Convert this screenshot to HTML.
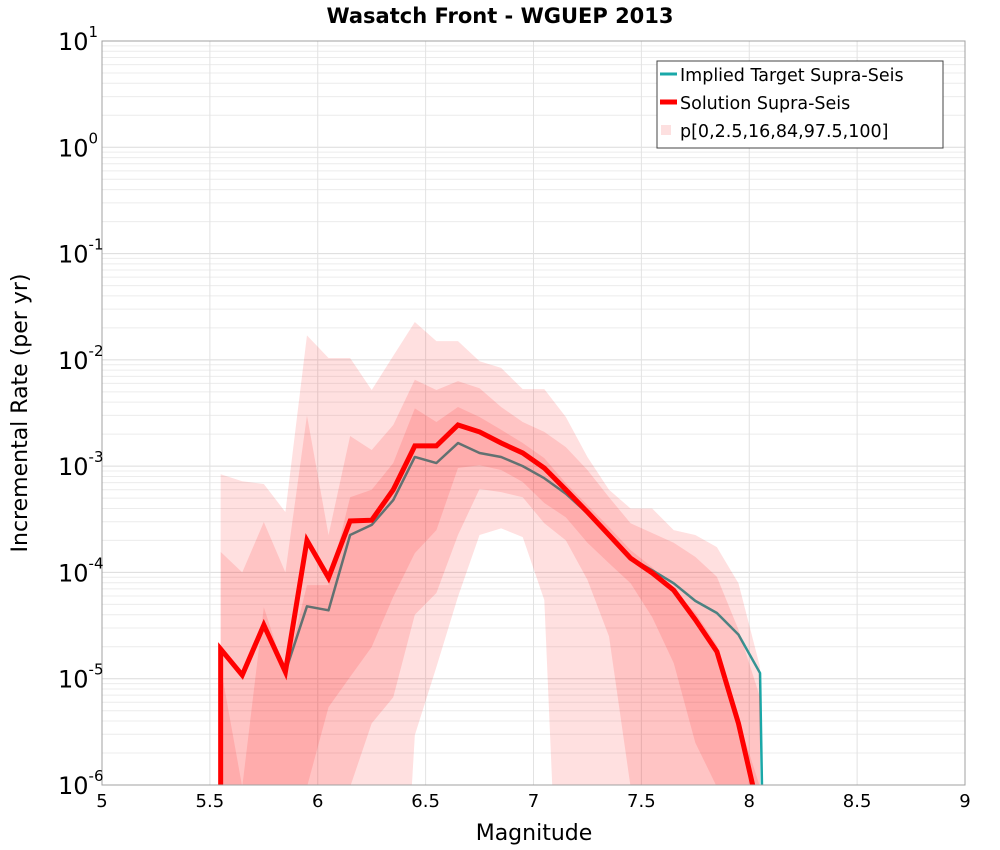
<!DOCTYPE html>
<html><head><meta charset="utf-8"><style>
html,body{margin:0;padding:0;background:#fff;}
svg{display:block;font-family:"DejaVu Sans","Liberation Sans",sans-serif;}
</style></head><body>
<svg id="chart" width="1000" height="850" viewBox="0 0 1000 850">
<defs><clipPath id="plotclip"><rect x="102" y="41" width="863" height="744"/></clipPath></defs>
<text x="500" y="23" text-anchor="middle" font-size="21" font-weight="bold">Wasatch Front - WGUEP 2013</text>
<g id="grid"></g>
<g id="series" clip-path="url(#plotclip)"></g>
<rect x="102" y="41" width="863" height="744" fill="none" stroke="#a0a0a0" stroke-width="1"/>
<g id="xticks"></g>
<g id="yticks"></g>
<text x="534" y="840" text-anchor="middle" font-size="22">Magnitude</text>
<text transform="translate(27,413) rotate(-90)" text-anchor="middle" font-size="22">Incremental Rate (per yr)</text>
<g>
<rect x="657" y="61" width="286" height="87" fill="#fff" stroke="#444" stroke-width="1"/>
<line x1="660" y1="74" x2="677" y2="74" stroke="#1aa8a8" stroke-width="3"/>
<text x="680" y="81" font-size="17.5">Implied Target Supra-Seis</text>
<line x1="660" y1="102" x2="677" y2="102" stroke="#ff0000" stroke-width="5"/>
<text x="680" y="109" font-size="17.5">Solution Supra-Seis</text>
<rect x="661" y="125" width="10" height="10" fill="#fde0e0"/>
<text x="680" y="137" font-size="17.5">p[0,2.5,16,84,97.5,100]</text>
</g>
</svg>
<script>
const mags = [5.55,5.65,5.75,5.85,5.95,6.05,6.15,6.25,6.35,6.45,6.55,6.65,6.75,6.85,6.95,7.05,7.15,7.25,7.35,7.45,7.55,7.65,7.75,7.85,7.95,8.05];
const solution = [1.9e-5,1.08e-5,3.2e-5,1.16e-5,2.0e-4,8.9e-5,3.05e-4,3.1e-4,6.0e-4,1.55e-3,1.55e-3,2.44e-3,2.1e-3,1.65e-3,1.33e-3,9.6e-4,6.0e-4,3.7e-4,2.25e-4,1.36e-4,9.9e-5,6.8e-5,3.6e-5,1.8e-5,3.8e-6,5e-7];
const target = [1.9e-5,1.08e-5,3.2e-5,1.16e-5,4.8e-5,4.4e-5,2.25e-4,2.8e-4,4.8e-4,1.22e-3,1.07e-3,1.65e-3,1.33e-3,1.22e-3,1.0e-3,7.7e-4,5.5e-4,3.6e-4,2.25e-4,1.36e-4,1.05e-4,7.9e-5,5.4e-5,4.15e-5,2.6e-5,1.13e-5];
const p100 = [8.4e-4,7.2e-4,6.8e-4,3.7e-4,1.7e-2,1.04e-2,1.04e-2,5.2e-3,1.09e-2,2.27e-2,1.5e-2,1.5e-2,9.7e-3,8.4e-3,5.3e-3,5.3e-3,2.9e-3,1.22e-3,6.0e-4,4.0e-4,4.0e-4,2.5e-4,2.25e-4,1.73e-4,7.9e-5,1.29e-5];
const p97_5 = [1.56e-4,1.0e-4,2.98e-4,1.0e-4,3.0e-3,2.25e-4,1.92e-3,1.42e-3,2.44e-3,6.5e-3,5.2e-3,6.3e-3,5.4e-3,3.6e-3,2.6e-3,2.1e-3,1.51e-3,9.2e-4,5.1e-4,2.9e-4,2.35e-4,1.9e-4,1.4e-4,9.1e-5,2.9e-5,6.7e-6];
const p84 = [1.29e-5,0,4.7e-5,1.13e-5,7.6e-5,7.6e-5,5.1e-4,6.0e-4,1.07e-3,3.5e-3,2.6e-3,3.6e-3,2.9e-3,2.2e-3,1.65e-3,1.19e-3,6.9e-4,4.3e-4,2.67e-4,1.62e-4,1.12e-4,6.8e-5,4.2e-5,2.07e-5,4.1e-6,0];
const p16 = [0,0,0,0,0,5.4e-6,1.04e-5,1.99e-5,5.9e-5,1.52e-4,2.5e-4,9.6e-4,1.02e-3,9.2e-4,7.1e-4,4.5e-4,3.3e-4,1.9e-4,1.22e-4,7.9e-5,3.8e-5,1.4e-5,2.5e-6,0,0,0];
const p2_5 = [0,0,0,0,0,0,0,3.8e-6,6.7e-6,4.0e-5,6.4e-5,2.25e-4,6.1e-4,5.7e-4,5.1e-4,2.9e-4,2.0e-4,8.5e-5,2.5e-5,0,0,0,0,0,0,0];
const p0 = [0,0,0,0,0,0,0,0,1e-9,2.95e-6,1.29e-5,5.9e-5,2.25e-4,2.6e-4,2.15e-4,5.5e-5,1e-9,0,0,0,0,0,0,0,0,0];
const xTicks = [5,5.5,6,6.5,7,7.5,8,8.5,9];
const xTickLabels = ["5","5.5","6","6.5","7","7.5","8","8.5","9"];
const yExps = [-6,-5,-4,-3,-2,-1,0,1];

const X0=102,X1=965,Y0=785,Y1=41;
const xS = m => X0 + (m-5)/(9-5)*(X1-X0);
const yS = v => { if(!(v>0)) return Y0+2; return Y0 - (Math.log10(v)+6)/7*(Y0-Y1); };
const NS="http://www.w3.org/2000/svg";
function mk(tag, parent, attrs){const e=document.createElementNS(NS,tag);for(const k in attrs)e.setAttribute(k,attrs[k]);parent.appendChild(e);return e;}

const grid=document.getElementById('grid');
for(let e=-6;e<1;e++){for(let k=2;k<=9;k++){const y=yS(k*Math.pow(10,e));
 const l=mk('line',grid,{x1:X0,x2:X1,y1:y,y2:y,stroke:'#ececec','stroke-width':1});
 
 }}
yExps.forEach(e=>{const y=yS(Math.pow(10,e));
 const l=mk('line',grid,{x1:X0,x2:X1,y1:y,y2:y,stroke:'#dcdcdc','stroke-width':1});
 
 });
xTicks.forEach(m=>{const x=xS(m);
 const l=mk('line',grid,{x1:x,x2:x,y1:Y1,y2:Y0,stroke:'#e2e2e2','stroke-width':1});
 
 });

const xt=document.getElementById('xticks');
xTicks.forEach((m,i)=>{const t=mk('text',xt,{x:xS(m),y:807,'text-anchor':'middle','font-size':18});t.textContent=xTickLabels[i];
 
 });
const yt=document.getElementById('yticks');
yExps.forEach(e=>{const y=yS(Math.pow(10,e));
 const t=mk('text',yt,{x:58,y:y+9,'font-size':24,'text-anchor':'start'});
 
 
 const a=mk('tspan',t,{});a.textContent='10';
 const b=mk('tspan',t,{'font-size':15,dy:-13});b.textContent=String(e);});

const ser=document.getElementById('series');
let tp=mags.map((m,i)=>xS(m)+','+yS(target[i]));
tp.push(xS(8.05)+2+','+(Y0+5));
const tl=mk('polyline',ser,{points:tp.join(' '),fill:'none',stroke:'#1aa8a8','stroke-width':2.5,'stroke-linejoin':'round'});


function band(up,lo,name){
 const pts=[xS(mags[0])+','+(Y0+2)];
 mags.forEach((m,i)=>pts.push(xS(m)+','+yS(up[i])));
 pts.push(xS(mags[mags.length-1])+','+(Y0+2));
 for(let i=mags.length-1;i>=0;i--)pts.push(xS(mags[i])+','+yS(lo[i]));
 const p=mk('polygon',ser,{points:pts.join(' '),fill:'rgba(255,0,0,0.12)'});
 
 
}
band(p100,p0,'band-p0-p100');
band(p97_5,p2_5,'band-p2.5-p97.5');
band(p84,p16,'band-p16-p84');
let sp=[xS(mags[0])+','+(Y0+5)].concat(mags.map((m,i)=>xS(m)+','+yS(solution[i])));
const sl=mk('polyline',ser,{points:sp.join(' '),fill:'none',stroke:'#ff0000','stroke-width':5,'stroke-linejoin':'miter'});


</script>
</body></html>
